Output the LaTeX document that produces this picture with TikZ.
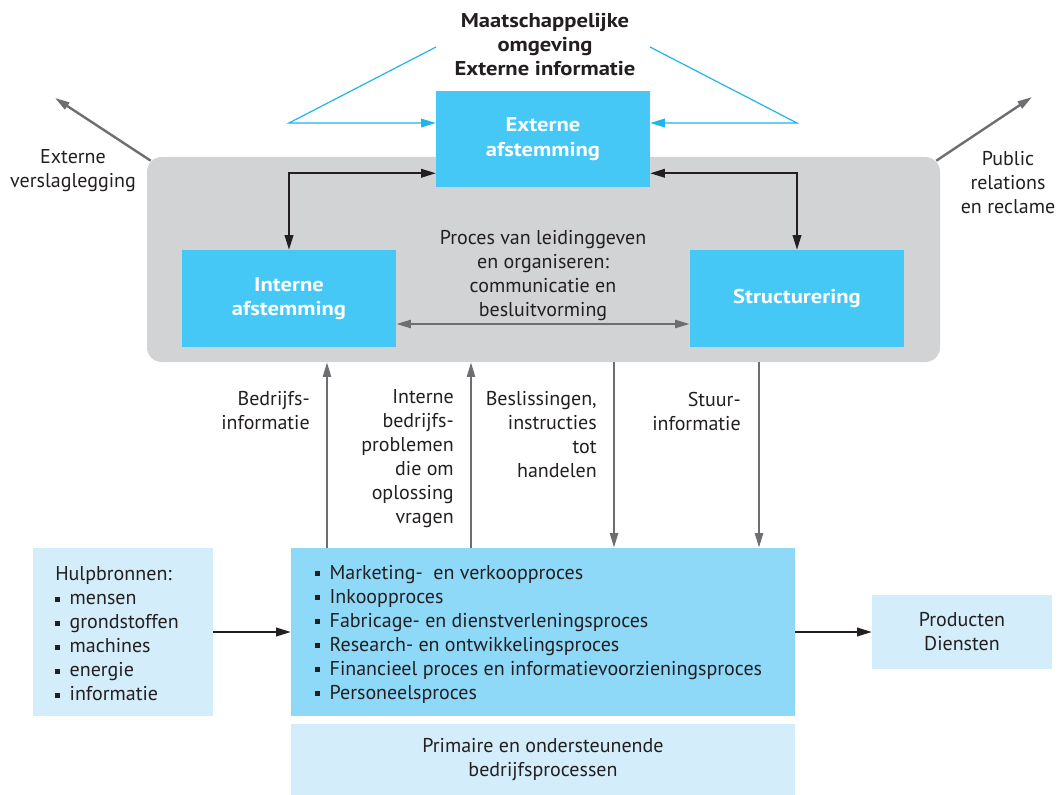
\documentclass[tikz,border=0pt]{standalone}
\usepackage{fontspec}
\setmainfont{PT Sans}[BoldFeatures={FakeStretch=1.13}]
\usetikzlibrary{arrows.meta}

\definecolor{extblue}{HTML}{45C8F5}
\definecolor{procblue}{HTML}{8ED8F8}
\definecolor{lightblue}{HTML}{D3EEFA}
\definecolor{leadgray}{HTML}{D1D3D4}
\definecolor{arrowgray}{HTML}{6D6E71}
\definecolor{lineblue}{HTML}{1EB4EC}
\definecolor{textdark}{HTML}{231F20}

\newcommand{\sqbul}{\raisebox{0.28ex}{\rule{3.8pt}{3.8pt}}\hspace{7pt}}

\tikzset{
  pxsize/.style 2 args={minimum width=#1*0.75pt, minimum height=#2*0.75pt},
  extbox/.style={fill=extblue, inner sep=0pt, align=center, text=white, font=\fontsize{15}{18.5}\selectfont\bfseries},
  lightbox/.style={fill=lightblue, inner sep=0pt, align=center},
  blkarrow/.style={draw=textdark, line width=1.2pt, {Triangle[length=11pt,width=6.5pt]}-{Triangle[length=11pt,width=6.5pt]}},
  grayarrow/.style={draw=arrowgray, line width=1.8pt, -{Triangle[length=11pt,width=6pt]}},
  bluearrow/.style={draw=lineblue, line width=0.9pt, -{Triangle[length=11pt,width=6.5pt]}},
  lbl/.style={inner sep=0pt, align=right, anchor=east}
}

\begin{document}
\begin{tikzpicture}[x=0.75pt,y=-0.75pt,font=\fontsize{15}{18}\selectfont,text=textdark]
  \useasboundingbox (0,0) rectangle (1061,795);

  \node[pxsize={793}{205}, fill=leadgray, rounded corners=11pt, inner sep=0pt] (lead) at (543.5,259.5) {};

  \node[inner sep=0pt, align=center, font=\fontsize{15}{18}\selectfont\bfseries] (title) at (545,45) {Maatschappelijke\\omgeving\\Externe informatie};

  \node[extbox, pxsize={214}{96}] (ext) at (543,139) {Externe\\afstemming};
  \node[extbox, pxsize={214}{97}] (int) at (289,298.5) {Interne\\afstemming};
  \node[extbox, pxsize={214}{97}] (struct) at (797,298.5) {Structurering};

  \node[inner sep=0pt, align=center] (leadtxt) at (543,276) {Proces van leidinggeven\\en organiseren:\\communicatie en\\besluitvorming};

  \coordinate (lt) at (436,47);
  \coordinate (lb) at (289,123);
  \coordinate (rt) at (650,47);
  \coordinate (rb) at (797,123);
  \draw[bluearrow] (lt) -- (lb) -- (lb -| ext.west);
  \draw[bluearrow] (rt) -- (rb) -- (rb -| ext.east);

  \draw[blkarrow] (int.north) |- ([yshift=10.5pt]ext.south west);
  \draw[blkarrow] (struct.north) |- ([yshift=10.5pt]ext.south east);

  \coordinate (mid) at (543,324);
  \draw[grayarrow, {Triangle[length=11pt,width=6pt]}-{Triangle[length=11pt,width=6pt]}] (mid -| int.east) -- (mid -| struct.west);

  \node[inner sep=0pt, align=center] (extv) at (73,171) {Externe\\verslaglegging};
  \node[inner sep=0pt, align=center] (pubrel) at (1008,183) {Public\\relations\\en reclame};
  \coordinate (vtip) at (55,98);
  \coordinate (ptip) at (1032,97);
  \draw[grayarrow] ([shift={(3pt,-3pt)}]lead.north west) -- (vtip);
  \draw[grayarrow] ([shift={(-3pt,-3pt)}]lead.north east) -- (ptip);

  \node[pxsize={504}{168}, fill=procblue, inner sep=0pt] (proc) at (543,632) {};
  \node[inner sep=0pt, align=left, anchor=west] (proclist) at (315,634) {\sqbul Marketing-~ en verkoopproces\\\sqbul Inkoopproces\\\sqbul Fabricage- en dienstverleningsproces\\\sqbul Research- en ontwikkelingsproces\\\sqbul Financieel proces en informatievoorzieningsproces\\\sqbul Personeelsproces};

  \node[lightbox, pxsize={180}{168}] (hulp) at (123,632) {};
  \node[inner sep=0pt, align=left, anchor=west] (hulplist) at (55,634) {Hulpbronnen:\\\sqbul mensen\\\sqbul grondstoffen\\\sqbul machines\\\sqbul energie\\\sqbul informatie};

  \node[lightbox, pxsize={180}{74}] (prod) at (962,632) {Producten\\Diensten};
  \node[lightbox, pxsize={504}{71}] (prim) at (543,759.5) {Primaire en ondersteunende\\bedrijfsprocessen};

  \draw[blkarrow, -{Triangle[length=11pt,width=6.5pt]}] (hulp.east) -- (proc.west);
  \draw[blkarrow, -{Triangle[length=11pt,width=6.5pt]}] (proc.east) -- (prod.west);

  \coordinate (up1) at (327,0);
  \coordinate (up2) at (471,0);
  \coordinate (dn1) at (614,0);
  \coordinate (dn2) at (759,0);
  \draw[grayarrow] (up1 |- proc.north) -- (up1 |- lead.south);
  \draw[grayarrow] (up2 |- proc.north) -- (up2 |- lead.south);
  \draw[grayarrow] (dn1 |- lead.south) -- (dn1 |- proc.north);
  \draw[grayarrow] (dn2 |- lead.south) -- (dn2 |- proc.north);

  \node[lbl] (bedrinfo) at (310,411) {Bedrijfs-\\informatie};
  \node[lbl] (intprob) at (454,459) {Interne\\bedrijfs-\\problemen\\die om\\oplossing\\vragen};
  \node[lbl] (beslis) at (597,435) {Beslissingen,\\instructies\\tot\\handelen};
  \node[lbl] (stuur) at (741,411) {Stuur-\\informatie};
\end{tikzpicture}
\end{document}
